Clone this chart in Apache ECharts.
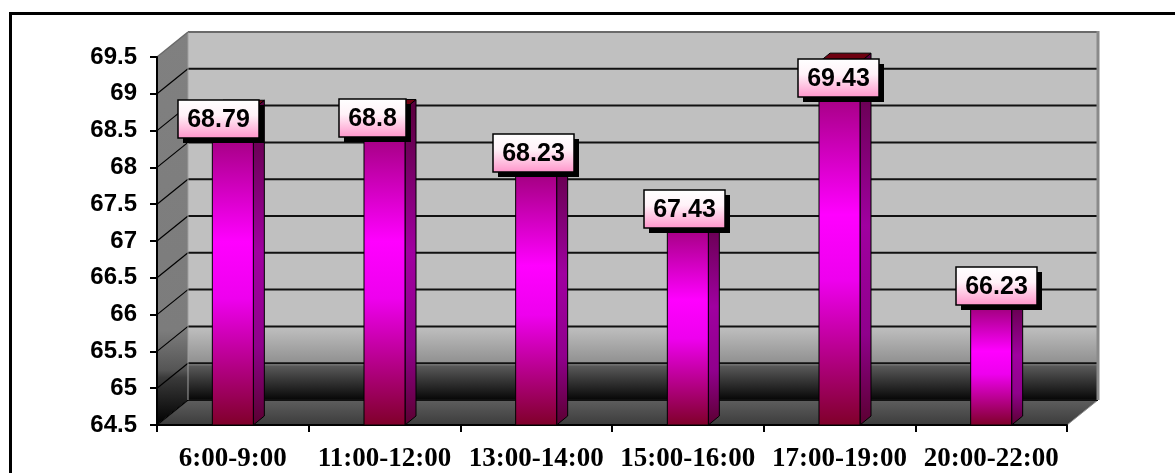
<!DOCTYPE html>
<html>
<head>
<meta charset="utf-8">
<script src="https://cdn.jsdelivr.net/npm/echarts@6/dist/echarts.min.js"></script>
<style>
  html, body { margin: 0; padding: 0; background: #ffffff; }
  #chart { width: 1175px; height: 473px; }
</style>
</head>
<body>
<div id="chart"></div>
<script>
// Time slots and their measured values
const categories = ['6:00-9:00', '11:00-12:00', '13:00-14:00', '15:00-16:00', '17:00-19:00', '20:00-22:00'];
const values = [68.79, 68.8, 68.23, 67.43, 69.43, 66.23];

// Value axis range
const yMin = 64.5;
const yMax = 69.5;
const yStep = 0.5;

// Depth of the 3D box and of each column (pixels)
const WALL_DX = 31, WALL_DY = 25;
const BAR_DX = 11, BAR_DY = 9;
const BAR_W = 41;
// Small per-label nudges of the value boxes (pixels, relative to the column top)
const labelNudge = [[-14, 10], [-12, 9], [-3, 3], [-3, 0], [-1, 16], [5, -12]];

const G = echarts.graphic;
const LABEL_FONT = 'bold 25px "Liberation Sans", Arial, sans-serif';
const measureCtx = document.createElement('canvas').getContext('2d');
measureCtx.font = LABEL_FONT;

function grad(x1, y1, x2, y2, stops) {
  return new G.LinearGradient(x1, y1, x2, y2, stops.map(s => ({ offset: s[0], color: s[1] })), true);
}

// Back wall, side wall, floor and the gridlines of the 3D frame
function renderWalls(params, api) {
  const cs = params.coordSys;
  const x0 = cs.x, x1 = cs.x + cs.width;
  const yTop = cs.y, yBot = cs.y + cs.height;
  const bx0 = x0 + WALL_DX, bx1 = x1 + WALL_DX;
  const by0 = yTop - WALL_DY, by1 = yBot - WALL_DY;
  const children = [];

  // back wall
  children.push({
    type: 'rect',
    shape: { x: bx0, y: by0, width: bx1 - bx0, height: by1 - by0 },
    style: {
      fill: grad(0, by0, 0, by1, [[0, '#c0c0c0'], [0.80, '#c0c0c0'], [0.904, '#8e8e8e'], [0.907, '#5a5a5a'], [1, '#060606']])
    }
  });
  // left side wall
  children.push({
    type: 'polygon',
    shape: { points: [[x0, yTop], [bx0, by0], [bx0, by1], [x0, yBot]] },
    style: {
      fill: grad(0, by0, 0, yBot, [[0, '#808080'], [0.76, '#7c7c7c'], [0.86, '#555555'], [0.88, '#3a3a3a'], [1, '#000000']])
    }
  });
  // floor
  children.push({
    type: 'polygon',
    shape: { points: [[x0, yBot], [x1, yBot], [bx1, by1], [bx0, by1]] },
    style: {
      fill: grad(0, by1, 0, yBot, [[0, '#5e5e5e'], [1, '#3c3c3c']]),
      stroke: '#8a8a8a', lineWidth: 1
    }
  });

  // gridlines on the back wall and the slanted lines on the side wall
  for (let v = yMin; v <= yMax + 1e-9; v += yStep) {
    const yf = api.coord([0, v])[1];
    const yb = yf - WALL_DY;
    const isTop = Math.abs(v - yMax) < 1e-9;
    children.push({
      type: 'line',
      shape: { x1: bx0, y1: yb, x2: bx1, y2: yb },
      style: { stroke: isTop ? '#6a6a6a' : '#111111', lineWidth: 2 }
    });
    if (!isTop) {
      children.push({
        type: 'line',
        shape: { x1: x0, y1: yf, x2: bx0, y2: yb },
        style: { stroke: '#000000', lineWidth: 1.2 }
      });
    }
  }
  // wall edges
  children.push({
    type: 'line',
    shape: { x1: bx0, y1: by0, x2: bx0, y2: by1 },
    style: { stroke: '#a0a0a0', lineWidth: 1 }
  });
  children.push({
    type: 'line',
    shape: { x1: bx1, y1: by0 - 1, x2: bx1, y2: by1 },
    style: { stroke: '#8a8a8a', lineWidth: 3 }
  });
  children.push({
    type: 'line',
    shape: { x1: x0, y1: yTop, x2: bx0, y2: by0 },
    style: { stroke: '#6a6a6a', lineWidth: 1.5 }
  });
  return { type: 'group', children: children };
}

// 3D columns: front face, side face and top face
function renderBar(params, api) {
  const i = api.value(0), v = api.value(1);
  const top = api.coord([i, v]);
  const base = api.coord([i, yMin]);
  const xl = top[0] - BAR_W / 2, xr = top[0] + BAR_W / 2;
  const yt = top[1], yb = base[1];
  return {
    type: 'group',
    children: [
      {
        type: 'polygon',
        shape: { points: [[xr, yt], [xr + BAR_DX, yt - BAR_DY], [xr + BAR_DX, yb - BAR_DY], [xr, yb]] },
        style: {
          fill: grad(0, yt, 0, yb, [[0, '#5c0040'], [0.45, '#a000a0'], [0.75, '#90008c'], [1, '#5a0030']]),
          stroke: '#000000', lineWidth: 1
        }
      },
      {
        type: 'polygon',
        shape: { points: [[xl, yt], [xr, yt], [xr + BAR_DX, yt - BAR_DY], [xl + BAR_DX, yt - BAR_DY]] },
        style: { fill: '#6e0010', stroke: '#000000', lineWidth: 1 }
      },
      {
        type: 'rect',
        shape: { x: xl, y: yt, width: BAR_W, height: yb - yt },
        style: {
          fill: grad(0, yt, 0, yb, [[0, '#8c0060'], [0.42, '#ff00ff'], [0.6, '#ee00ee'], [1, '#80002a']]),
          stroke: '#000000', lineWidth: 1
        }
      }
    ]
  };
}

// Value boxes with a drop shadow
function renderLabel(params, api) {
  const i = api.value(0), v = api.value(1);
  const p = api.coord([i, v]);
  const n = labelNudge[params.dataIndex] || [0, 0];
  const text = String(v);
  const w = Math.round(measureCtx.measureText(text).width + 18);
  const h = 38;
  const cx = p[0] + n[0], cy = p[1] + n[1];
  const x = Math.round(cx - w / 2), y = Math.round(cy - h / 2);
  return {
    type: 'group',
    children: [
      { type: 'rect', shape: { x: x + 5, y: y + 5, width: w, height: h }, style: { fill: '#000000' } },
      {
        type: 'rect',
        shape: { x: x, y: y, width: w, height: h },
        style: {
          fill: grad(0, y, 0, y + h, [[0, '#ffffff'], [0.4, '#fff2f8'], [1, '#ff96cb']]),
          stroke: '#000000', lineWidth: 1.5
        }
      },
      {
        type: 'text',
        x: x + w / 2, y: y + h / 2 + 1,
        style: { text: text, font: LABEL_FONT, fill: '#000000', align: 'center', verticalAlign: 'middle' }
      }
    ]
  };
}

const barData = values.map((v, i) => [i, v]);

const chart = echarts.init(document.getElementById('chart'), null, { renderer: 'canvas' });
chart.setOption({
  animation: false,
  backgroundColor: '#ffffff',
  grid: { left: 157, right: 108, top: 57, bottom: 46, containLabel: false },
  xAxis: {
    type: 'category',
    data: categories,
    z: 10,
    axisLine: { show: true, lineStyle: { color: '#000000', width: 2 } },
    axisTick: { show: true, length: 7, lineStyle: { color: '#000000', width: 2 } },
    axisLabel: {
      color: '#000000', fontFamily: '"Liberation Serif", "Times New Roman", serif',
      fontWeight: 'bold', fontSize: 27, margin: 21, interval: 0
    },
    splitLine: { show: false }
  },
  yAxis: {
    type: 'value',
    min: yMin, max: yMax, interval: yStep,
    z: 10,
    axisLine: { show: true, lineStyle: { color: '#000000', width: 2 } },
    axisTick: { show: true, length: 7, lineStyle: { color: '#000000', width: 2 } },
    axisLabel: {
      color: '#000000', fontFamily: '"Liberation Sans", Arial, sans-serif',
      fontWeight: 'bold', fontSize: 24, margin: 20
    },
    splitLine: { show: false }
  },
  graphic: [
    { type: 'line', shape: { x1: 9, y1: 13.5, x2: 1175, y2: 13.5 }, style: { stroke: '#000000', lineWidth: 3 }, z: 100 },
    { type: 'line', shape: { x1: 10.5, y1: 12, x2: 10.5, y2: 473 }, style: { stroke: '#000000', lineWidth: 3 }, z: 100 }
  ],
  series: [
    { type: 'custom', name: 'frame', data: [[0, yMin]], renderItem: renderWalls, z: 1, silent: true },
    { type: 'custom', name: 'columns', data: barData, renderItem: renderBar, z: 20 },
    { type: 'custom', name: 'values', data: barData, renderItem: renderLabel, z: 30 }
  ]
});
</script>
</body>
</html>
